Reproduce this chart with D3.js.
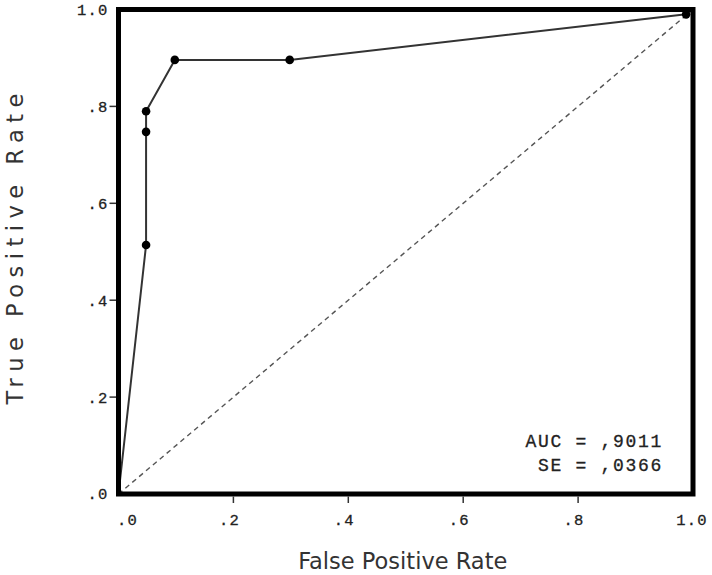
<!DOCTYPE html>
<html>
<head>
<meta charset="utf-8">
<script src="https://cdn.jsdelivr.net/npm/d3@7"></script>
<style>
  body { margin: 0; background: #fff; }
  .tick-label { font-family: "Liberation Mono", "Courier New", monospace; font-size: 15.5px; letter-spacing: 1.2px; fill: #222; stroke: #222; stroke-width: 0.3px; }
  .title { font-family: "DejaVu Sans", sans-serif; font-size: 22.5px; fill: #333; }
  .stat { font-family: "Liberation Mono", "Courier New", monospace; font-size: 18px; letter-spacing: 1.7px; fill: #222; stroke: #222; stroke-width: 0.3px; }
</style>
</head>
<body>
<div id="chart"></div>
<script>
const width = 712, height = 575;

// ROC curve points
const fpr = [0, 0.048, 0.048, 0.048, 0.098, 0.298, 0.988];
const tpr = [0, 0.514, 0.7475, 0.79, 0.896, 0.896, 0.99];
const tickValues = [0, 0.2, 0.4, 0.6, 0.8, 1];
const tickLabels = [".0", ".2", ".4", ".6", ".8", "1.0"];
const statLines = ["AUC = ,9011", "SE = ,0366"];

const x = d3.scaleLinear().domain([0, 1]).range([118.5, 693]);
const y = d3.scaleLinear().domain([0, 1]).range([494, 9.5]);

const svg = d3.select("#chart").append("svg")
    .attr("width", width)
    .attr("height", height);

// diagonal reference
svg.append("line")
    .attr("x1", x(0)).attr("y1", y(0))
    .attr("x2", x(1)).attr("y2", y(1))
    .attr("stroke", "#555")
    .attr("stroke-width", 1.4)
    .attr("stroke-dasharray", "5,4");

const pts = fpr.map((f, i) => [f, tpr[i]]);

svg.append("path")
    .datum(pts)
    .attr("fill", "none")
    .attr("stroke", "#333")
    .attr("stroke-width", 2)
    .attr("d", d3.line().x(d => x(d[0])).y(d => y(d[1])));

svg.selectAll("circle.pt")
    .data(pts.slice(1))
    .enter().append("circle")
    .attr("class", "pt")
    .attr("cx", d => x(d[0]))
    .attr("cy", d => y(d[1]))
    .attr("r", 4.3)
    .attr("fill", "#000");

// frame
svg.append("rect")
    .attr("x", x(0)).attr("y", y(1))
    .attr("width", x(1) - x(0))
    .attr("height", y(0) - y(1))
    .attr("fill", "none")
    .attr("stroke", "#000")
    .attr("stroke-width", 5);

// ticks
const inner = tickValues.slice(1, -1);
svg.selectAll("line.xt")
    .data(inner)
    .enter().append("line")
    .attr("x1", d => x(d)).attr("x2", d => x(d))
    .attr("y1", y(0) + 2.5).attr("y2", y(0) + 9)
    .attr("stroke", "#333").attr("stroke-width", 1.5);

svg.selectAll("line.yt")
    .data(inner)
    .enter().append("line")
    .attr("y1", d => y(d)).attr("y2", d => y(d))
    .attr("x1", x(0) - 2.5).attr("x2", x(0) - 9)
    .attr("stroke", "#333").attr("stroke-width", 1.5);

// x tick labels
svg.selectAll("text.xl")
    .data(tickValues)
    .enter().append("text")
    .attr("class", "tick-label")
    .attr("x", (d, i) => x(d) + (i === 0 ? 9 : (i === tickValues.length - 1 ? -1 : -4)))
    .attr("y", 525)
    .attr("text-anchor", "middle")
    .text((d, i) => tickLabels[i]);

// y tick labels
svg.selectAll("text.yl")
    .data(tickValues)
    .enter().append("text")
    .attr("class", "tick-label")
    .attr("x", x(0) - 10)
    .attr("y", d => y(d))
    .attr("dy", "0.35em")
    .attr("text-anchor", "end")
    .text((d, i) => tickLabels[i]);

// axis titles
svg.append("text")
    .attr("class", "title")
    .attr("x", (x(0) + x(1)) / 2 - 3)
    .attr("y", 569)
    .attr("text-anchor", "middle")
    .text("False Positive Rate");

svg.append("text")
    .attr("class", "title")
    .attr("transform", "translate(23," + ((y(0) + y(1)) / 2 - 6) + ") rotate(-90)")
    .attr("text-anchor", "middle")
    .style("letter-spacing", "6.5px")
    .text("True Positive Rate");

// stats
svg.selectAll("text.stat")
    .data(statLines)
    .enter().append("text")
    .attr("class", "stat")
    .attr("x", 663)
    .attr("y", (d, i) => 447 + i * 24)
    .attr("text-anchor", "end")
    .text(d => d);
</script>
</body>
</html>
